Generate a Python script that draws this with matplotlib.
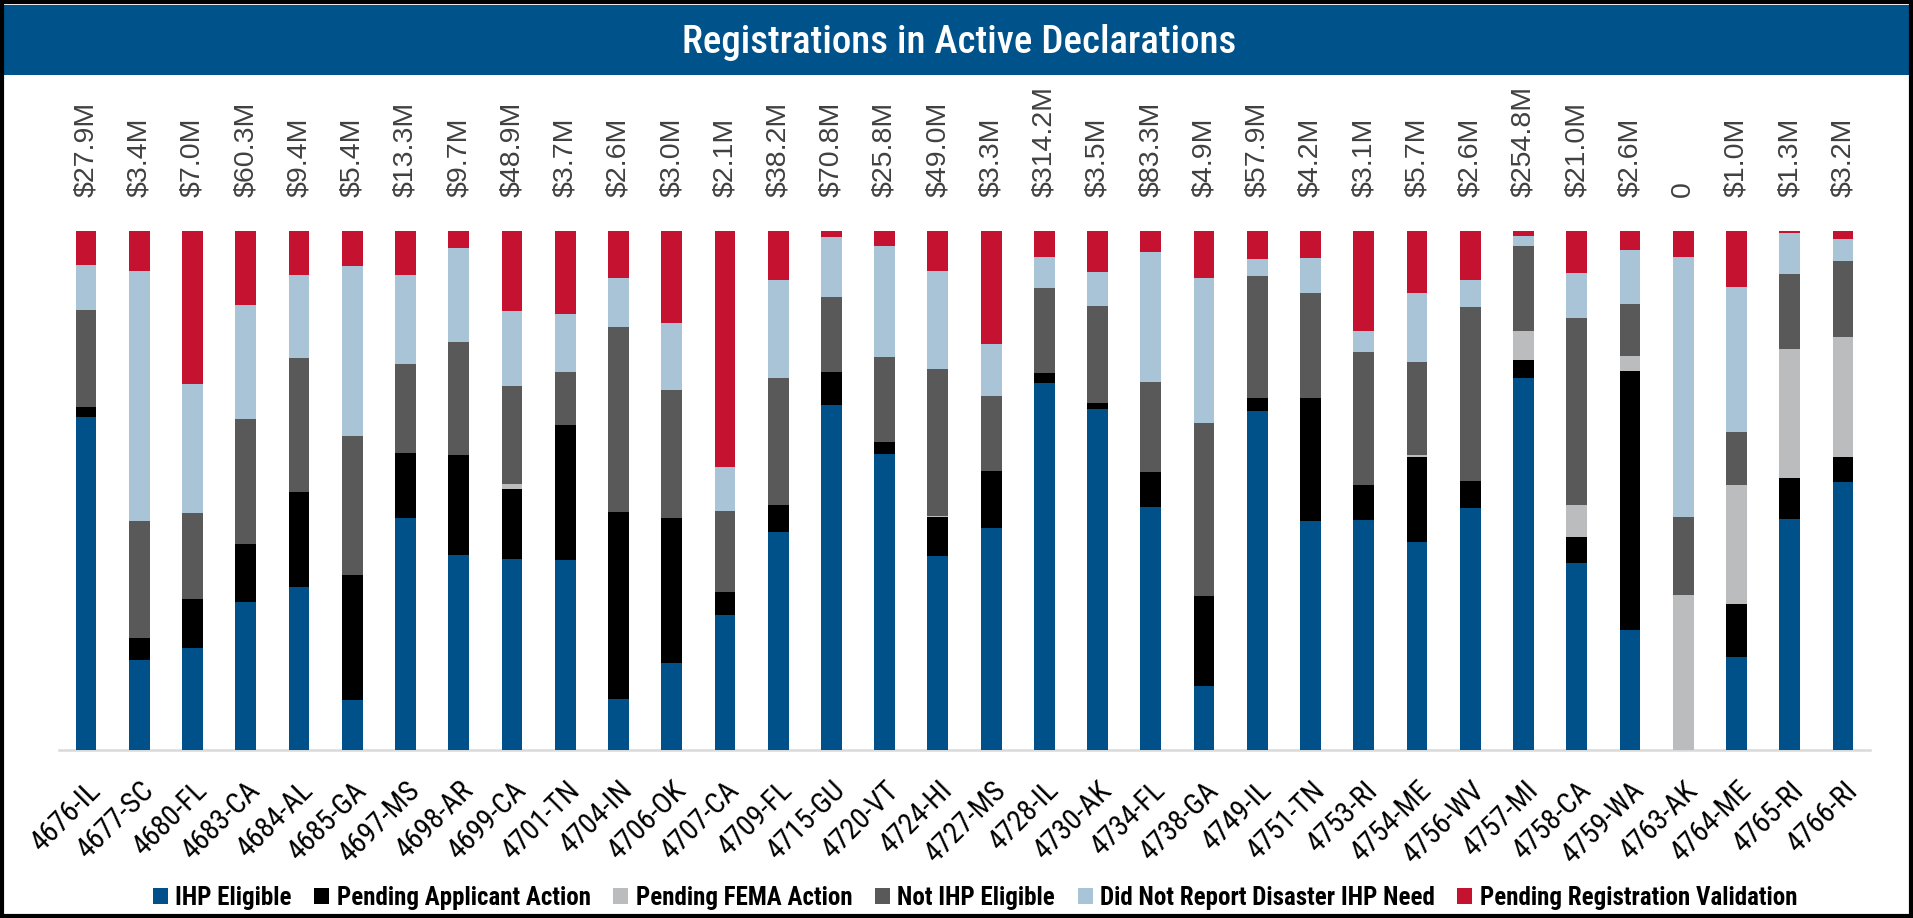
import matplotlib
matplotlib.use("Agg")
import matplotlib.pyplot as plt
from matplotlib import font_manager
from matplotlib.patches import Rectangle, Patch
import numpy as np

categories = ['4676-IL', '4677-SC', '4680-FL', '4683-CA', '4684-AL', '4685-GA', '4697-MS',
              '4698-AR', '4699-CA', '4701-TN', '4704-IN', '4706-OK', '4707-CA', '4709-FL',
              '4715-GU', '4720-VT', '4724-HI', '4727-MS', '4728-IL', '4730-AK', '4734-FL',
              '4738-GA', '4749-IL', '4751-TN', '4753-RI', '4754-ME', '4756-WV', '4757-MI',
              '4758-CA', '4759-WA', '4763-AK', '4764-ME', '4765-RI', '4766-RI']

amount_labels = ['$27.9M', '$3.4M', '$7.0M', '$60.3M', '$9.4M', '$5.4M', '$13.3M', '$9.7M',
                 '$48.9M', '$3.7M', '$2.6M', '$3.0M', '$2.1M', '$38.2M', '$70.8M', '$25.8M',
                 '$49.0M', '$3.3M', '$314.2M', '$3.5M', '$83.3M', '$4.9M', '$57.9M', '$4.2M',
                 '$3.1M', '$5.7M', '$2.6M', '$254.8M', '$21.0M', '$2.6M', '0', '$1.0M',
                 '$1.3M', '$3.2M']

ihp_eligible = [64.1, 17.4, 19.7, 28.6, 31.4, 9.7, 44.7, 37.7, 36.8, 36.7, 9.9, 16.7, 26.1, 42.1,
                66.5, 57.0, 37.4, 42.8, 70.8, 65.7, 46.9, 12.3, 65.2, 44.1, 44.4, 40.1, 46.6, 71.6,
                36.0, 23.2, 0, 17.9, 44.6, 51.6]
pending_applicant = [2.0, 4.1, 9.4, 11.2, 18.2, 24.0, 12.6, 19.2, 13.4, 25.9, 35.9, 28.0, 4.3, 5.1,
                     6.3, 2.5, 7.4, 10.9, 1.9, 1.2, 6.6, 17.4, 2.6, 23.7, 6.6, 16.3, 5.2, 3.6,
                     5.0, 49.8, 0, 10.2, 7.9, 4.8]
pending_fema = [0, 0, 0, 0, 0, 0, 0, 0, 1.0, 0, 0, 0, 0, 0,
                0, 0, 0.3, 0, 0, 0, 0, 0, 0, 0, 0, 0.4, 0, 5.5,
                6.3, 2.9, 29.9, 22.9, 24.8, 23.2]
not_ihp_eligible = [18.6, 22.6, 16.6, 24.0, 25.9, 26.8, 17.1, 21.8, 18.9, 10.3, 35.7, 24.7, 15.7, 24.6,
                    14.5, 16.3, 28.3, 14.6, 16.4, 18.6, 17.4, 33.4, 23.4, 20.1, 25.7, 17.9, 33.5, 16.4,
                    36.0, 10.1, 14.9, 10.3, 14.5, 14.6]
did_not_report = [8.8, 48.1, 24.8, 22.1, 16.0, 32.8, 17.2, 18.2, 14.5, 11.2, 9.4, 12.8, 8.4, 18.8,
                  11.6, 21.4, 18.9, 9.9, 5.9, 6.6, 25.0, 28.0, 3.3, 6.8, 4.0, 13.4, 5.1, 1.9,
                  8.7, 10.3, 50.2, 27.9, 7.9, 4.3]
pending_validation = [6.5, 7.7, 29.5, 14.2, 8.4, 6.8, 8.4, 3.2, 15.4, 15.9, 9.1, 17.8, 45.5, 9.5,
                      1.1, 2.9, 7.7, 21.8, 5.0, 7.9, 4.1, 9.0, 5.4, 5.2, 19.3, 11.9, 9.5, 1.0,
                      8.0, 3.7, 5.0, 10.8, 0.4, 1.5]

series_names = ['IHP Eligible', 'Pending Applicant Action', 'Pending FEMA Action',
                'Not IHP Eligible', 'Did Not Report Disaster IHP Need',
                'Pending Registration Validation']
series_colors = ['#00518A', '#000000', '#BBBCBE', '#595959', '#A8C4D6', '#C41230']
series_values = [ihp_eligible, pending_applicant, pending_fema, not_ihp_eligible,
                 did_not_report, pending_validation]

# ---- fonts ----
available = {f.name for f in font_manager.fontManager.ttflist}
def pick(*names):
    for n in names:
        if n in available:
            return n
    return 'DejaVu Sans'

narrow = pick('Liberation Sans Narrow', 'DejaVu Sans Condensed', 'Roboto Condensed',
              'Open Sans Condensed', 'Liberation Sans')
arial = pick('Liberation Sans', 'Arimo', 'DejaVu Sans')

W, H = 1913, 918
fig = plt.figure(figsize=(W / 100, H / 100), dpi=100)
fig.patch.set_facecolor('white')

def fx(px):
    return px / W

def fy(py):
    return 1 - py / H

# axes: x from 59 to 1870 px, y from 231 to 750 px
ax = fig.add_axes([fx(59), fy(750), fx(1870) - fx(59), fy(231) - fy(750)])

vals = np.array(series_values, dtype=float)
vals = vals / vals.sum(axis=0, keepdims=True)
x = np.arange(len(categories))
bottom = np.zeros(len(categories))
for name, col, v in zip(series_names, series_colors, vals):
    ax.bar(x, v, 0.39, bottom=bottom, color=col, label=name, edgecolor='none', zorder=2)
    bottom += v

ax.set_xlim(-0.507, len(categories) - 1 + 0.507)
ax.set_ylim(0, 1)
ax.set_yticks([])
for s in ['top', 'left', 'right']:
    ax.spines[s].set_visible(False)
ax.spines['bottom'].set_color('#D9D9D9')
ax.spines['bottom'].set_linewidth(1.8)
ax.spines['bottom'].set_zorder(1)

ax.set_xticks(x)
ax.set_xticklabels(categories, rotation=45, ha='right', va='top', rotation_mode='anchor',
                   fontsize=21, family=narrow, color='black')
ax.tick_params(axis='x', length=0, pad=19)

for i, lab in enumerate(amount_labels):
    ax.annotate(lab, xy=(i, 1), xycoords='data', xytext=(0, 24.5), textcoords='offset points',
                rotation=90, ha='center', va='bottom', fontsize=20.5, family=arial,
                color='#404040', annotation_clip=False)

# title banner
fig.patches.append(Rectangle((fx(4), fy(75)), fx(1909) - fx(4), fy(5) - fy(75),
                             transform=fig.transFigure, facecolor='#00528A',
                             edgecolor='none', zorder=0))
fig.text(fx(959), fy(53), 'Registrations in Active Declarations', ha='center', va='baseline',
         color='white', fontsize=28, family=narrow, weight='medium')

# outer frame
fig.patches.append(Rectangle((fx(2), fy(916)), fx(1911) - fx(2), fy(2) - fy(916),
                             transform=fig.transFigure, facecolor='none',
                             edgecolor='black', linewidth=3, zorder=5))

# legend
handles = [Patch(facecolor=c, edgecolor='none', label=n)
           for n, c in zip(series_names, series_colors)]
fig.legend(handles=handles, loc='center', bbox_to_anchor=(fx(975), fy(898)), ncol=6,
           frameon=False, prop={'family': narrow, 'size': 18, 'weight': 'bold'},
           handlelength=0.6, handleheight=0.6, handletextpad=0.3, columnspacing=0.9,
           borderaxespad=0, borderpad=0)

fig.savefig('out.png', dpi=100)
